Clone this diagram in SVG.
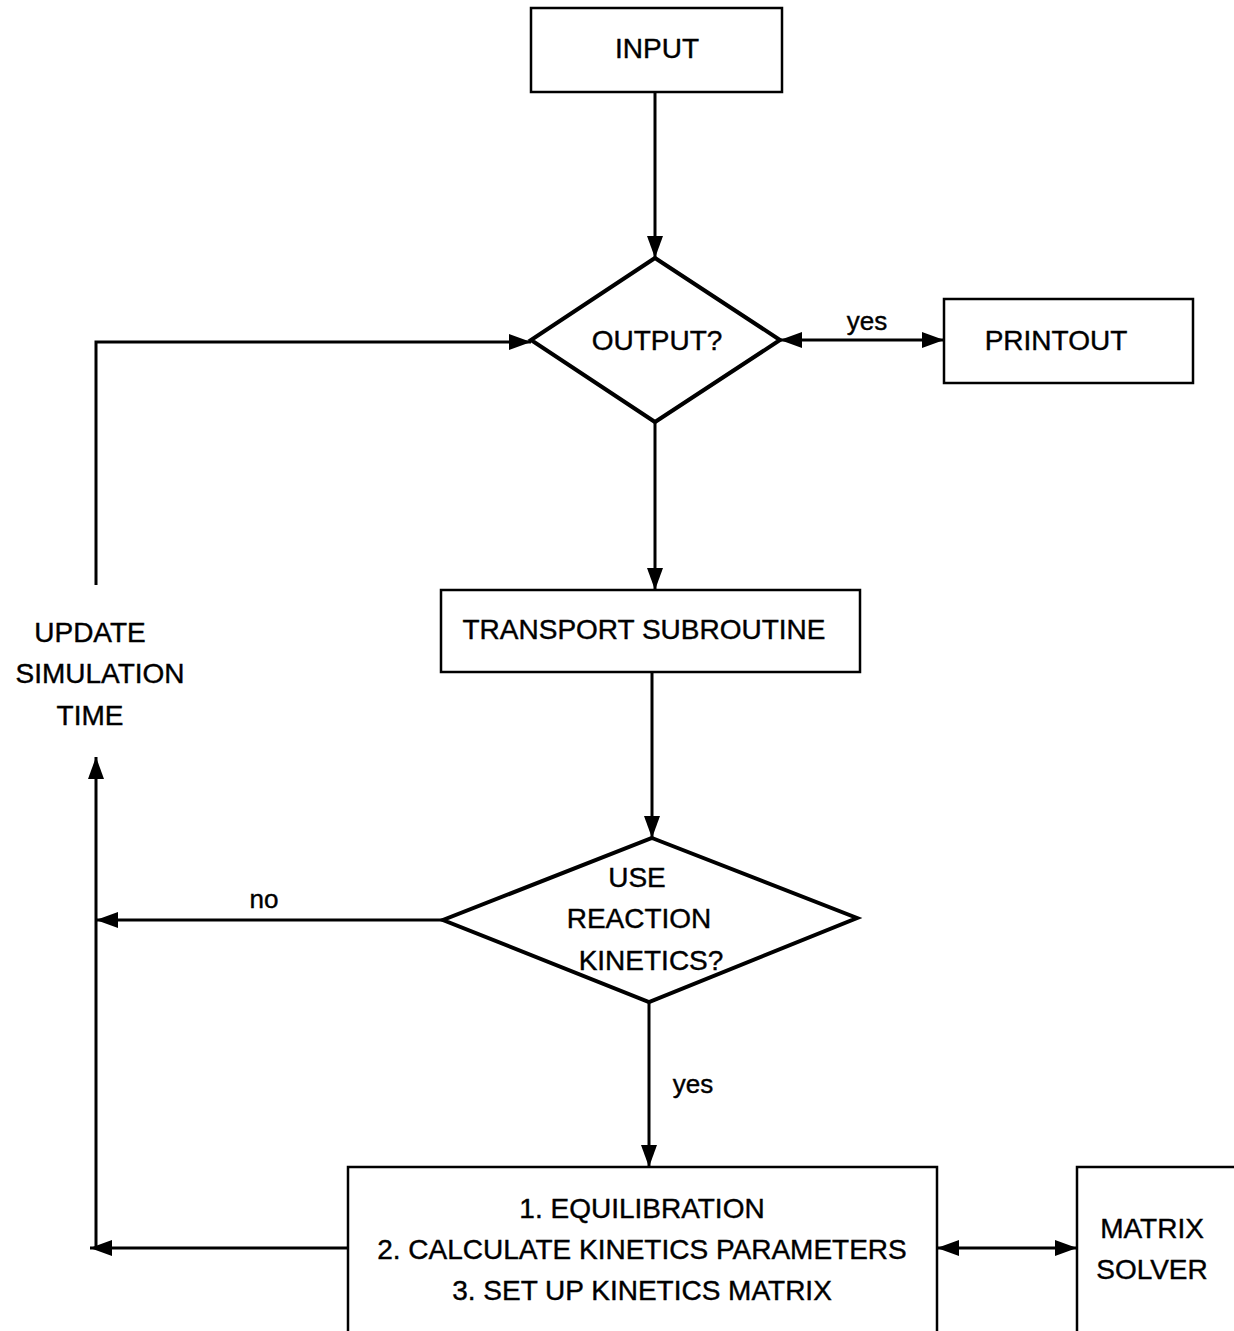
<svg xmlns="http://www.w3.org/2000/svg" width="1234" height="1331" viewBox="0 0 1234 1331">
<style>
.box{fill:#fff;stroke:#000;stroke-width:2.5}
.dia{fill:#fff;stroke:#000;stroke-width:4}
.ln{fill:none;stroke:#000;stroke-width:3}
text{font-family:"Liberation Sans",Arial,sans-serif;font-size:28px;fill:#000;stroke:#000;stroke-width:0.4;text-anchor:middle}
.lbl{font-size:26px}
</style>
<defs>
<marker id="a" viewBox="0 0 22 16" refX="22" refY="8" markerWidth="22" markerHeight="16" markerUnits="userSpaceOnUse" orient="auto-start-reverse">
<path d="M0,0 L22,8 L0,16 Z" fill="#000"/>
</marker>
</defs>
<rect width="1234" height="1331" fill="#fff"/>
<g id="connectors">
<line class="ln" x1="655" y1="92" x2="655" y2="258" marker-end="url(#a)"/>
<polyline class="ln" points="96,585 96,342 531,342" marker-end="url(#a)"/>
<line class="ln" x1="780" y1="340" x2="944" y2="340" marker-start="url(#a)" marker-end="url(#a)"/>
<line class="ln" x1="655" y1="422" x2="655" y2="590" marker-end="url(#a)"/>
<line class="ln" x1="652" y1="672" x2="652" y2="838" marker-end="url(#a)"/>
<line class="ln" x1="443" y1="920" x2="96" y2="920" marker-end="url(#a)"/>
<line class="ln" x1="96" y1="1248" x2="96" y2="757" marker-end="url(#a)"/>
<line class="ln" x1="649" y1="1002" x2="649" y2="1167" marker-end="url(#a)"/>
<line class="ln" x1="348" y1="1248" x2="90" y2="1248" marker-end="url(#a)"/>
<line class="ln" x1="937" y1="1248" x2="1077" y2="1248" marker-start="url(#a)" marker-end="url(#a)"/>
<text class="lbl" x="867" y="330">yes</text>
<text class="lbl" x="264" y="908">no</text>
<text class="lbl" x="693" y="1093">yes</text>
</g>
<g id="input">
<rect class="box" x="531" y="8" width="251" height="84"/>
<text x="657" y="58">INPUT</text>
</g>
<g id="output">
<polygon class="dia" points="655,258 780,340 655,422 531,340"/>
<text x="657" y="350">OUTPUT?</text>
</g>
<g id="printout">
<rect class="box" x="944" y="299" width="249" height="84"/>
<text x="1056" y="350">PRINTOUT</text>
</g>
<g id="transport">
<rect class="box" x="441" y="590" width="419" height="82"/>
<text x="644" y="639">TRANSPORT SUBROUTINE</text>
</g>
<g id="update">
<text x="90" y="642">UPDATE</text>
<text x="100" y="683">SIMULATION</text>
<text x="90" y="725">TIME</text>
</g>
<g id="kinetics">
<polygon class="dia" points="652,838 857,918 649,1002 443,920"/>
<text x="637" y="887">USE</text>
<text x="639" y="928">REACTION</text>
<text x="651" y="970">KINETICS?</text>
</g>
<g id="compute">
<rect class="box" x="348" y="1167" width="589" height="180"/>
<text x="642" y="1218">1. EQUILIBRATION</text>
<text x="642" y="1259">2. CALCULATE KINETICS PARAMETERS</text>
<text x="642" y="1300">3. SET UP KINETICS MATRIX</text>
</g>
<g id="solver">
<rect class="box" x="1077" y="1167" width="180" height="180"/>
<text x="1152" y="1238">MATRIX</text>
<text x="1152" y="1279">SOLVER</text>
</g>
</svg>
